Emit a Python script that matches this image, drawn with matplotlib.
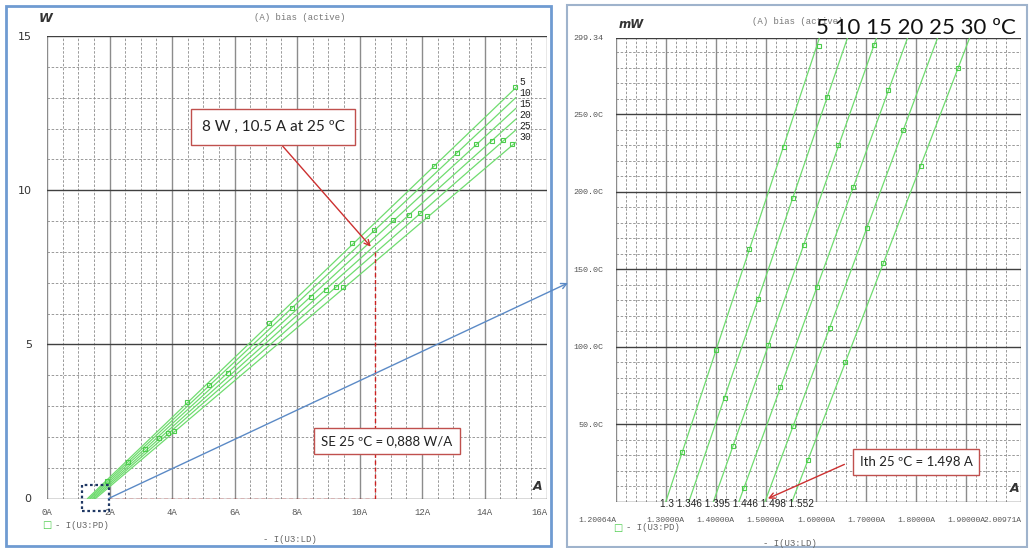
import numpy as np
import matplotlib
matplotlib.use('Agg')
import matplotlib.pyplot as plt
from matplotlib.patches import Rectangle, ConnectionPatch

# curves for each case temperature (ºC)
temps = [5, 10, 15, 20, 25, 30]
ith = [1.300, 1.346, 1.395, 1.446, 1.498, 1.552]        # A at 0 W
i_top = [1.607, 1.663, 1.721, 1.783, 1.843, 1.907]      # A at 299.34 mW
p_top = 0.29934                                          # W
p_15a = [13.32, 13.00, 12.65, 12.30, 11.95, 11.55]       # W at 15 A

# markers seen on the full range plot
left_mk_i = [1.92, 2.60, 3.14, 3.58, 3.87, 4.06, 4.48, 5.18, 5.79, 7.10, 7.84, 8.45,
             8.93, 9.25, 9.47, 9.76, 10.46, 11.07, 11.58, 11.94, 12.16, 12.38, 13.12,
             13.73, 14.24, 14.60, 14.88, 14.98]
left_mk_p = [0.58, 1.17, 1.62, 1.95, 2.11, 2.18, 3.12, 3.67, 4.08, 5.68, 6.17, 6.53,
             6.75, 6.85, 6.85, 8.28, 8.70, 9.03, 9.19, 9.25, 9.16, 10.78, 11.20,
             11.49, 11.59, 11.62, 11.49, 13.34]

# markers on the zoomed plot (A, mW)
zoom_mk_i = [
    [1.332, 1.400, 1.467, 1.536, 1.606],
    [1.418, 1.484, 1.555, 1.623],
    [1.434, 1.505, 1.577, 1.645, 1.717],
    [1.457, 1.529, 1.602, 1.674, 1.745],
    [1.555, 1.628, 1.702, 1.774],
    [1.585, 1.659, 1.735, 1.809, 1.884],
]
zoom_mk_p = [
    [32, 98, 163, 229, 294],
    [67, 131, 196, 261],
    [36, 101, 166, 230, 295],
    [9, 74, 139, 203, 266],
    [49, 112, 177, 240],
    [27, 90, 154, 217, 280],
]

left_xticks = [0, 2, 4, 6, 8, 10, 12, 14, 16]
left_xlabels = ['0A', '2A', '4A', '6A', '8A', '10A', '12A', '14A', '16A']
left_yticks = [0, 5, 10, 15]
right_xticks = [1.20064, 1.3, 1.4, 1.5, 1.6, 1.7, 1.8, 1.9, 2.00971]
right_xlabels = ['1.20064A', '1.30000A', '1.40000A', '1.50000A', '1.60000A',
                 '1.70000A', '1.80000A', '1.90000A', '2.00971A']
right_yticks = [50, 100, 150, 200, 250, 299.34]
right_ylabels = ['50.0C', '100.0C', '150.0C', '200.0C', '250.0C', '299.34']

W, H = 1029, 548
def fx(x):
    return x / W
def fy(y):
    return 1 - y / H

GREEN = '#6fdc6f'
MK = '#4ccc4c'
RED = '#c0504d'
MONO = ['Liberation Mono', 'DejaVu Sans Mono']
CAL = ['Lato', 'DejaVu Sans']

fig = plt.figure(figsize=(W / 100, H / 100), dpi=100)
fig.patch.set_facecolor('white')

ax1 = fig.add_axes([fx(47), fy(498.5), 500 / W, 462.5 / H])
ax2 = fig.add_axes([fx(616), fy(502), 405 / W, 464 / H])

def style_grid(ax):
    for s in ax.spines.values():
        s.set_visible(False)
    ax.set_axisbelow(True)
    ax.tick_params(which='both', length=0)
    ax.grid(which='minor', color='#8a8a8a', lw=0.6, ls=(0, (3, 2)))

# ---- left: full range ----
style_grid(ax1)
ax1.set_xlim(0, 16)
ax1.set_ylim(0, 15)
ax1.set_xticks(left_xticks)
ax1.set_xticklabels(left_xlabels, family=MONO, fontsize=6.5, color='#555555')
ax1.set_xticks(np.arange(0.5, 16, 0.5), minor=True)
ax1.set_yticks(left_yticks)
ax1.set_yticklabels([str(v) for v in left_yticks], fontsize=8, color='#333333')
ax1.set_yticks(np.arange(1, 15, 1), minor=True)
ax1.tick_params(axis='x', pad=7)
ax1.tick_params(axis='y', pad=11)
ax1.grid(which='major', axis='x', color='#8c8c8c', lw=1)
ax1.grid(which='major', axis='y', color='#404040', lw=1)
ax1.get_xticklabels()[-1].set_horizontalalignment('right')

for k, t in enumerate(temps):
    ax1.plot([ith[k], i_top[k], 15.0], [0, p_top, p_15a[k]], color=GREEN, lw=0.9)
    ax1.text(15.12, 13.5 - k * 0.355, str(t), fontsize=7, family=MONO,
             va='center', ha='left', color='#222222')
ax1.plot(left_mk_i, left_mk_p, ls='none', marker='s', ms=3.5, mfc='none',
         mec=MK, mew=0.8)

# red marking of 8 W / 10.5 A
ax1.plot([10.5, 10.5], [0, 8.0], color='#cc2020', lw=1, ls=(0, (3, 2)))
ax1.plot([1.95, 10.5], [0, 0], color='#cc2020', lw=1, ls=(0, (3, 2)))
ax1.add_patch(Rectangle((1.12, -0.42), 0.85, 0.86, fill=False, ec='#1f3864',
                        lw=1.6, ls=(0, (1.2, 1.2)), clip_on=False, zorder=5))

ax1.annotate('', xy=(10.42, 8.1), xytext=(7.35, 11.65),
             arrowprops=dict(arrowstyle='->', color='#cc3030', lw=1))
fig.text(fx(273), fy(127), '8 W , 10.5 A at 25 ºC', family=CAL, fontsize=11,
         ha='center', va='center', color='#222222',
         bbox=dict(boxstyle='square,pad=0.7', fc='white', ec=RED, lw=1))
fig.text(fx(387), fy(441), 'SE 25 ºC = 0,888 W/A', family=CAL, fontsize=9.5,
         ha='center', va='center', color='#222222',
         bbox=dict(boxstyle='square,pad=0.55', fc='white', ec=RED, lw=1))

fig.text(fx(300), fy(17), '(A) bias (active)', family=MONO, fontsize=6.5,
         color='#777777', ha='center', va='center')
fig.text(fx(46), fy(18), 'W', fontsize=9, style='italic', weight='bold',
         color='#333333', ha='center', va='center')
fig.text(fx(538), fy(486), 'A', fontsize=9, style='italic', weight='bold',
         color='#333333', ha='center', va='center')
fig.text(fx(47), fy(525), '□', fontsize=7, color=MK, ha='center', va='center')
fig.text(fx(55), fy(525), '- I(U3:PD)', family=MONO, fontsize=6.5,
         color='#666666', ha='left', va='center')
fig.text(fx(290), fy(540), '- I(U3:LD)', family=MONO, fontsize=6.5,
         color='#666666', ha='center', va='center')

# ---- right: zoom on threshold ----
style_grid(ax2)
ax2.set_xlim(1.20064, 2.00971)
ax2.set_ylim(0, 299.34)
ax2.set_xticks(right_xticks)
ax2.set_xticklabels(right_xlabels, family=MONO, fontsize=5.8, color='#555555')
ax2.set_xticks(np.arange(1.22, 2.0, 0.02), minor=True)
ax2.set_yticks(right_yticks)
ax2.set_yticklabels(right_ylabels, family=MONO, fontsize=6, color='#555555')
ax2.set_yticks(np.arange(10, 299, 10), minor=True)
ax2.tick_params(axis='x', pad=11)
ax2.tick_params(axis='y', pad=9)
ax2.grid(which='major', axis='x', color='#8c8c8c', lw=1)
ax2.grid(which='major', axis='y', color='#404040', lw=1)
ax2.axhline(0, color='#404040', lw=1)
xl = ax2.get_xticklabels()
xl[0].set_horizontalalignment('right')
xl[-1].set_horizontalalignment('right')

for k, t in enumerate(temps):
    ax2.plot(np.array([ith[k], i_top[k], 15.0]),
             np.array([0, p_top, p_15a[k]]) * 1000, color=GREEN, lw=0.9)
    ax2.plot(zoom_mk_i[k], zoom_mk_p[k], ls='none', marker='s', ms=3.2,
             mfc='none', mec=MK, mew=0.8)

ax2.annotate('', xy=(1.499, 1.5), xytext=(1.662, 25),
             arrowprops=dict(arrowstyle='->', color='#cc3030', lw=1))
fig.text(fx(916), fy(462), 'Ith 25 ºC = 1.498 A', family=CAL, fontsize=9.5,
         ha='center', va='center', color='#222222',
         bbox=dict(boxstyle='square,pad=0.5', fc='white', ec=RED, lw=1))
fig.text(fx(660), fy(504), '1.3 1.346 1.395 1.446 1.498 1.552',
         family=['Liberation Sans Narrow', 'Liberation Sans'], fontsize=7.2,
         ha='left', va='center', color='#222222')
fig.text(fx(916), fy(28), '5 10 15 20 25 30 ºC', family=CAL, fontsize=16,
         ha='center', va='center', color='#111111')

fig.text(fx(798), fy(21), '(A) bias (active)', family=MONO, fontsize=6.5,
         color='#777777', ha='center', va='center', zorder=0)
fig.text(fx(631), fy(25), 'mW', fontsize=8.5, style='italic', weight='bold',
         color='#333333', ha='center', va='center')
fig.text(fx(1015), fy(489), 'A', fontsize=9, style='italic', weight='bold',
         color='#333333', ha='center', va='center')
fig.text(fx(618), fy(528), '□', fontsize=7, color=MK, ha='center', va='center')
fig.text(fx(626), fy(528), '- I(U3:PD)', family=MONO, fontsize=6.5,
         color='#666666', ha='left', va='center')
fig.text(fx(790), fy(543), '- I(U3:LD)', family=MONO, fontsize=6.5,
         color='#666666', ha='center', va='center')

# panel frames and the link from the box to the zoom panel
fig.add_artist(Rectangle((fx(6), fy(546)), 545 / W, 540 / H, fill=False,
                         ec='#6f9bd1', lw=2, transform=fig.transFigure))
fig.add_artist(Rectangle((fx(567), fy(547)), 460 / W, 542 / H, fill=False,
                         ec='#9fb3cc', lw=1.5, transform=fig.transFigure))
fig.add_artist(ConnectionPatch(xyA=(1.97, 0), coordsA=ax1.transData,
                               xyB=(fx(568), fy(283)), coordsB=fig.transFigure,
                               arrowstyle='->', color='#5b8ac6', lw=1))

fig.savefig('out.png', dpi=100)
